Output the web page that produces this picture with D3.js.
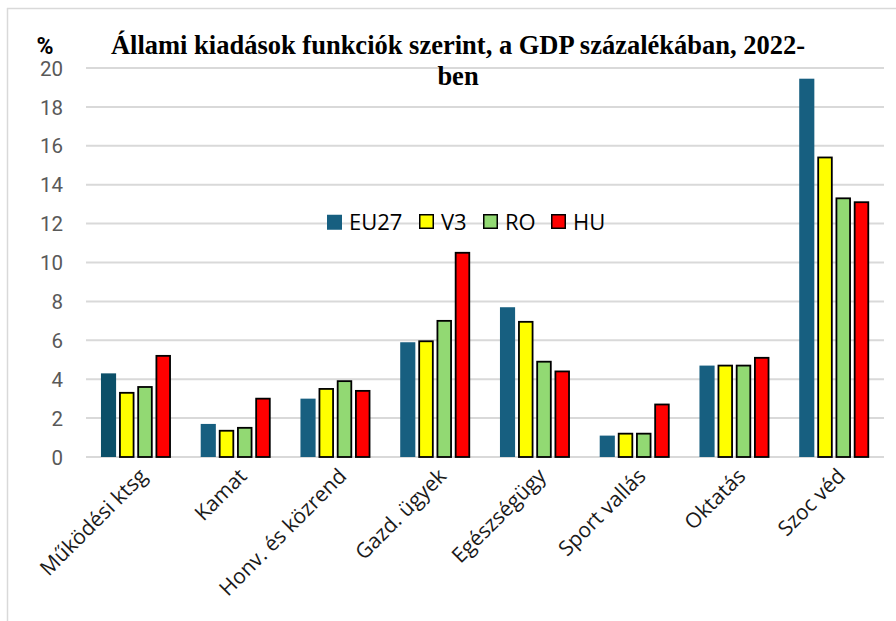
<!DOCTYPE html>
<html>
<head>
<meta charset="utf-8">
<script src="https://cdn.jsdelivr.net/npm/d3@7"></script>
<style>
  html, body { margin: 0; padding: 0; background: #fff; }
  svg { display: block; }
</style>
</head>
<body>
<svg id="chart" width="896" height="621"></svg>
<script>
// ---- Data ----
const categories = ["Működési ktsg", "Kamat", "Honv. és közrend", "Gazd. ügyek", "Egészségügy", "Sport vallás", "Oktatás", "Szoc véd"];
const seriesNames = ["EU27", "V3", "RO", "HU"];
const eu27 = [4.3, 1.7, 3.0, 5.9, 7.7, 1.1, 4.7, 19.45];
const v3   = [3.3, 1.35, 3.5, 5.95, 6.95, 1.2, 4.7, 15.4];
const ro   = [3.6, 1.5, 3.9, 7.0, 4.9, 1.2, 4.7, 13.3];
const hu   = [5.2, 3.0, 3.4, 10.5, 4.4, 2.7, 5.1, 13.1];
const yTicks = [0, 2, 4, 6, 8, 10, 12, 14, 16, 18, 20];
const titleLines = ["Állami kiadások funkciók szerint, a GDP százalékában, 2022-", "ben"];
const yUnit = "%";

const seriesValues = [eu27, v3, ro, hu];
const colors = ["#175f80", "#ffff00", "#92d973", "#ff0000"];
const strokes = [null, "#000", "#000", "#000"];

const svg = d3.select("#chart");
const W = 896, H = 621;

// Frame
svg.append("line").attr("x1", 7.5).attr("x2", 7.5).attr("y1", 8).attr("y2", H).attr("stroke", "#d9d9d9").attr("stroke-width", 1.5);
svg.append("line").attr("x1", 7).attr("x2", W).attr("y1", 8.5).attr("y2", 8.5).attr("stroke", "#d9d9d9").attr("stroke-width", 1.5);

// Scales
const y = d3.scaleLinear().domain([0, 20]).range([457, 68]);
const x0 = d3.scaleBand().domain(categories).range([86, 884]).paddingInner(0.3).paddingOuter(0.15);
const x1 = d3.scaleBand().domain(seriesNames).range([0, x0.bandwidth()]).paddingInner(0.17);

// Gridlines
svg.append("g").selectAll("line").data(yTicks).join("line")
  .attr("x1", 86).attr("x2", 884)
  .attr("y1", d => y(d)).attr("y2", d => y(d))
  .attr("stroke", "#d9d9d9").attr("stroke-width", 2);

// Y axis labels
const yAxis = d3.axisLeft(y).tickValues(yTicks).tickSize(0).tickPadding(0);
const yg = svg.append("g").attr("transform", "translate(63,0)").call(yAxis);
yg.select(".domain").remove();
yg.selectAll("text").attr("font-family", "Roboto, sans-serif").attr("font-size", 20.5).attr("fill", "#595959").attr("dy", "0.35em");

// % unit
svg.append("text").attr("x", 45).attr("y", 54).attr("text-anchor", "middle")
  .attr("font-family", "Roboto, sans-serif").attr("font-weight", "bold").attr("font-size", 23).attr("fill", "#000").text(yUnit);

// Bars
const groups = svg.append("g").selectAll("g").data(categories).join("g")
  .attr("transform", c => `translate(${x0(c)},0)`);
groups.selectAll("rect").data((c, i) => seriesNames.map((s, j) => ({ s, j, i, v: seriesValues[j][i] }))).join("rect")
  .attr("x", d => x1(d.s) + (strokes[d.j] ? 0.75 : 0))
  .attr("width", d => x1.bandwidth() - (strokes[d.j] ? 1.5 : 0))
  .attr("y", d => y(d.v))
  .attr("height", d => y(0) - y(d.v))
  .attr("fill", d => (d.j === 0 && d.i === 0) ? "#0b4f68" : colors[d.j])
  .attr("stroke", d => strokes[d.j] || "none")
  .attr("stroke-width", 1.8);

// X axis labels
const xAxis = d3.axisBottom(x0).tickSize(0).tickPadding(0);
const xg = svg.append("g").attr("transform", "translate(2,467)").call(xAxis);
xg.select(".domain").remove();
xg.selectAll("text")
  .attr("font-family", "'Open Sans', sans-serif").attr("font-size", 21).attr("fill", "#1a1a1a")
  .attr("text-anchor", "end").attr("dy", "0.7em").attr("y", 0)
  .attr("transform", "rotate(-45)");

// Legend
const legendX = [327, 419, 483, 551];
const lg = svg.append("g").selectAll("g").data(seriesNames).join("g")
  .attr("transform", (d, i) => `translate(${legendX[i]},214)`);
lg.append("rect").attr("x", d => strokes[seriesNames.indexOf(d)] ? 0.75 : 0).attr("y", 0.75)
  .attr("width", d => strokes[seriesNames.indexOf(d)] ? 13.5 : 15)
  .attr("height", d => strokes[seriesNames.indexOf(d)] ? 13.5 : 15)
  .attr("fill", (d, i) => colors[i]).attr("stroke", (d, i) => strokes[i] || "none").attr("stroke-width", 1.5);
lg.append("text").attr("x", 22).attr("y", 15.5)
  .attr("font-family", "'Open Sans', sans-serif").attr("font-size", 22).attr("fill", "#000").text(d => d);

// Title
svg.append("g").selectAll("text").data(titleLines).join("text")
  .attr("x", 458).attr("y", (d, i) => 54 + i * 31).attr("text-anchor", "middle")
  .attr("font-family", "'Liberation Serif', 'Times New Roman', serif").attr("font-weight", "bold").attr("font-size", 26.5)
  .attr("fill", "#000").text(d => d);
</script>
</body>
</html>
